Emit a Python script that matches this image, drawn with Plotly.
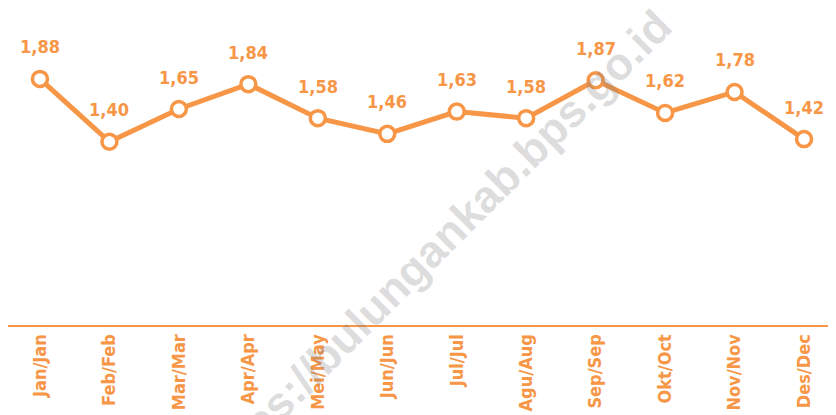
import plotly.graph_objects as go

months = ["Jan/Jan", "Feb/Feb", "Mar/Mar", "Apr/Apr", "Mei/May", "Jun/Jun",
          "Jul/Jul", "Agu/Aug", "Sep/Sep", "Okt/Oct", "Nov/Nov", "Des/Dec"]
values = [1.88, 1.40, 1.65, 1.84, 1.58, 1.46, 1.63, 1.58, 1.87, 1.62, 1.78, 1.42]
labels = ["1,88", "1,40", "1,65", "1,84", "1,58", "1,46",
          "1,63", "1,58", "1,87", "1,62", "1,78", "1,42"]

ORANGE = "#F79646"
FONT = "DejaVu Sans Condensed, sans-serif"

fig = go.Figure()
fig.add_trace(go.Scatter(
    x=months, y=values, mode="lines+markers",
    line=dict(color=ORANGE, width=5),
    marker=dict(size=15, color="white", line=dict(color=ORANGE, width=3.5)),
    hoverinfo="skip", cliponaxis=False,
))

for m, v, t in zip(months, values, labels):
    fig.add_annotation(x=m, y=v, text=t, showarrow=False,
                       yanchor="middle", yshift=32,
                       font=dict(family=FONT, size=18, color=ORANGE, weight="bold"))

fig.add_annotation(xref="x", yref="y", x=5.70, y=0.61,
                   text="https://bulungankab.bps.go.id", showarrow=False,
                   textangle=-45,
                   font=dict(family="Liberation Sans, Arial, sans-serif", size=45,
                             weight="bold", color="rgba(120,120,120,0.25)"))

fig.update_layout(
    width=828, height=407,
    margin=dict(l=0, r=0, t=29, b=90),
    paper_bgcolor="white", plot_bgcolor="white",
    showlegend=False,
    xaxis=dict(type="category", range=[-0.46, 11.46], showgrid=False, zeroline=False,
               showline=True, linecolor=ORANGE, linewidth=2, automargin=False,
               tickangle=-90, ticks="", ticklen=0,
               tickfont=dict(family=FONT, size=18, color=ORANGE, weight="bold")),
    yaxis=dict(range=[0, 2.2], visible=False, showgrid=False, zeroline=False,
               automargin=False),
)

fig.write_html("out.html")
